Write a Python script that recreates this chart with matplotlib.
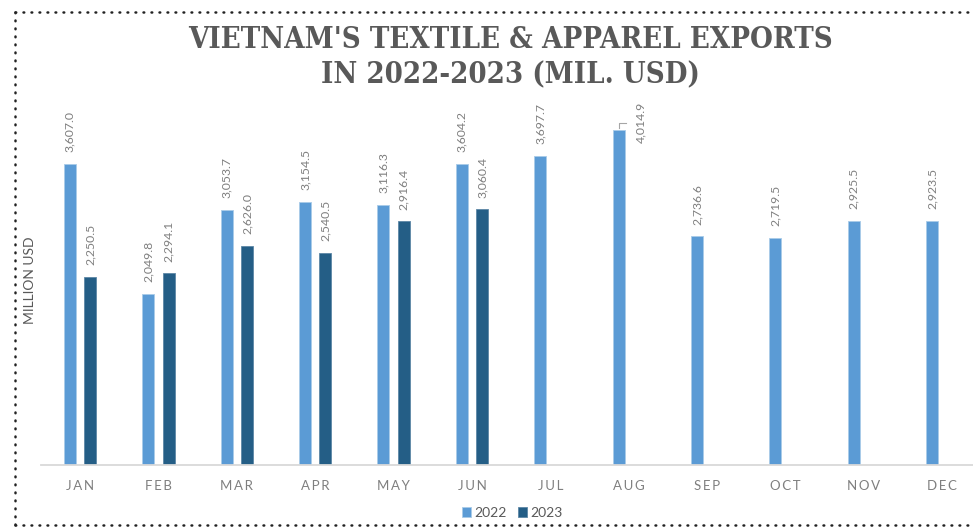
import matplotlib.pyplot as plt
import numpy as np

months = ["JAN", "FEB", "MAR", "APR", "MAY", "JUN",
          "JUL", "AUG", "SEP", "OCT", "NOV", "DEC"]
exports_2022 = [3607.0, 2049.8, 3053.7, 3154.5, 3116.3, 3604.2,
                3697.7, 4014.9, 2736.6, 2719.5, 2925.5, 2923.5]
exports_2023 = [2250.5, 2294.1, 2626.0, 2540.5, 2916.4, 3060.4]

c22 = "#5b9bd5"
c23 = "#245e86"
grey = "#7f7f7f"

W, H = 973, 530
fig = plt.figure(figsize=(W / 100, H / 100), dpi=100)

# axes placed in pixel terms: baseline at y=465, categories 78.4 px apart
ax = fig.add_axes([40.8 / W, (H - 465) / H, 940.8 / W, 365 / H])
x = np.arange(len(months))
x23 = np.arange(len(exports_2023))
w = 0.155
off = 0.13
b22 = ax.bar(x - off, exports_2022, w, color=c22, edgecolor="#a9cbe8", linewidth=0.6)
b23 = ax.bar(x23 + off, exports_2023, w, color=c23, edgecolor="#5d87a6", linewidth=0.6)

ax.set_xlim(-0.5, 11.5)
ax.set_ylim(0, 4371)
ax.set_yticks([])
for s in ["top", "left", "right"]:
    ax.spines[s].set_visible(False)
ax.spines["bottom"].set_color("#d9d9d9")
ax.spines["bottom"].set_linewidth(1.3)
ax.set_xticks(x)
ax.set_xticklabels(["\u2009".join(m) for m in months], color=grey, fontsize=9.5,
                   family=["Lato", "DejaVu Sans"])
ax.tick_params(axis="x", length=0, pad=11)

def fmt(v):
    return f"{v:,.1f}"

lab = dict(rotation=90, ha="center", va="bottom", fontsize=8.8, color=grey, family="Lato",
           textcoords="offset points")
for i, v in enumerate(exports_2022):
    if months[i] == "AUG":
        # label pushed aside with a small leader line
        ax.annotate(fmt(v), xy=(i - off, v), xytext=(16, -9.5), **lab)
        ax.plot([i - off, i - off, i - off + 0.1], [v + 20, v + 85, v + 85],
                color="#a6a6a6", lw=0.8, clip_on=False)
        continue
    ax.annotate(fmt(v), xy=(i - off, v), xytext=(0, 8.5), **lab)
for i, v in enumerate(exports_2023):
    ax.annotate(fmt(v), xy=(i + off, v), xytext=(0, 8.5), **lab)

fig.text(30 / W, 1 - 280 / H, "MILLION USD", rotation=90, ha="center", va="center",
         fontsize=10, color="#595959", family="Lato")

title = dict(ha="center", va="center", fontsize=21, fontweight="bold", color="#595959",
             family="DejaVu Serif", fontstretch="condensed")
fig.text(510 / W, 1 - 39 / H, "VIETNAM'S TEXTILE & APPAREL EXPORTS", **title)
fig.text(510 / W, 1 - 75 / H, "IN 2022-2023 (MIL. USD)", **title)

leg = fig.legend([b22, b23], ["2022", "2023"], loc="center", bbox_to_anchor=(512 / W, 1 - 513 / H),
                 ncol=2, frameon=False, handlelength=0.7, handleheight=0.7,
                 handletextpad=0.2, columnspacing=0.8, prop={"family": "Lato", "size": 10})
for t in leg.get_texts():
    t.set_color("#595959")

# dotted frame around the chart
dot = dict(color="#222222", lw=1.8, linestyle=(0, (0.3, 2.9)), dash_capstyle="round")
fig.add_artist(plt.Line2D([15 / W, 1], [1 - 12 / H, 1 - 12 / H], **dot))
fig.add_artist(plt.Line2D([15 / W, 15 / W], [1 - 12 / H, 1 - 525 / H], **dot))
fig.add_artist(plt.Line2D([15 / W, 1], [1 - 525 / H, 1 - 525 / H], **dot))

fig.savefig("out.png", dpi=100)
